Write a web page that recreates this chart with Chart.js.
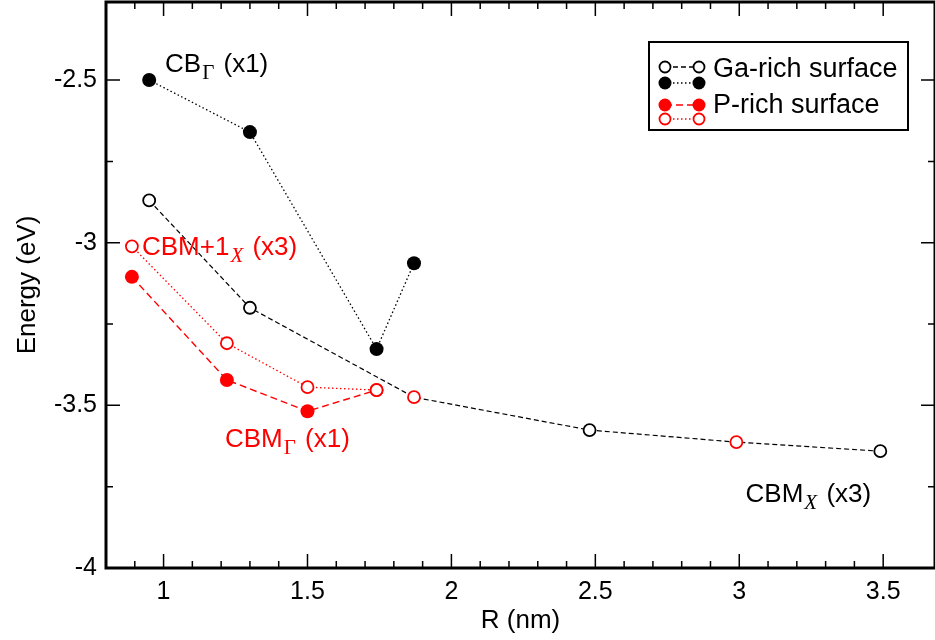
<!DOCTYPE html>
<html lang="en">
<head>
  <meta charset="UTF-8" />
  <title>Energy vs R</title>
  <script src="https://cdn.jsdelivr.net/npm/chart.js"></script>
  <style>
    html, body { margin: 0; padding: 0; background: #fff; }
    #wrap { width: 935px; height: 640px; }
  </style>
</head>
<body>
  <div id="wrap"><canvas id="energyChart" width="935" height="640"></canvas></div>

  <script>
    // CBM_X (x3): one dashed line through both surfaces
    const cbmXR = [0.95, 1.30, 1.87, 2.48, 2.99, 3.49];
    const cbmXE = [-2.87, -3.20, -3.475, -3.576, -3.613, -3.641];
    const cbmXSurface = ['Ga', 'Ga', 'P', 'Ga', 'P', 'Ga'];

    // CB_Gamma (x1), Ga-rich
    const cbGammaR = [0.95, 1.30, 1.74, 1.87];
    const cbGammaE = [-2.50, -2.66, -3.327, -3.063];

    // CBM_Gamma (x1), P-rich
    const cbmGammaR = [0.89, 1.22, 1.50, 1.74];
    const cbmGammaE = [-3.105, -3.422, -3.518, -3.453];

    // CBM+1_X (x3), P-rich
    const cbm1XR = [0.89, 1.22, 1.50, 1.74];
    const cbm1XE = [-3.011, -3.309, -3.444, -3.453];

    const xTickStep = 0.1;
    const yTickStep = 0.25;

    const FONT = "'Liberation Sans', Arial, Helvetica, sans-serif";
    const RED = '#ff0000';
    const surfaceColor = { Ga: '#000000', P: RED };

    const pts = (xs, ys) => xs.map((x, i) => ({ x: x, y: ys[i] }));
    const isMult = (v, step) => Math.abs(v / step - Math.round(v / step)) < 1e-6;

    // inward tick marks, frame, legend and text labels
    const framePlugin = {
      id: 'frame',
      afterDraw(chart) {
        const ctx = chart.ctx;
        const a = chart.chartArea;
        const xs = chart.scales.x, ys = chart.scales.y;
        ctx.save();
        ctx.strokeStyle = '#000';
        ctx.lineWidth = 1.5;
        ctx.beginPath();
        xs.ticks.forEach(t => {
          if (!isMult(t.value, xTickStep)) return;
          const px = xs.getPixelForValue(t.value);
          const len = isMult(t.value, 0.5) ? 14 : 7;
          ctx.moveTo(px, a.bottom); ctx.lineTo(px, a.bottom - len);
          ctx.moveTo(px, a.top); ctx.lineTo(px, a.top + len);
        });
        ys.ticks.forEach(t => {
          if (!isMult(t.value, yTickStep)) return;
          const py = ys.getPixelForValue(t.value);
          const len = isMult(t.value, 0.5) ? 14 : 7;
          ctx.moveTo(a.left, py); ctx.lineTo(a.left + len, py);
          ctx.moveTo(a.right, py); ctx.lineTo(a.right - len, py);
        });
        ctx.stroke();

        ctx.lineWidth = 3;
        ctx.strokeRect(a.left, a.top, a.right - a.left, a.bottom - a.top);

        // legend
        const lx = 649, ly = 42, lw = 259, lh = 88;
        ctx.fillStyle = '#fff';
        ctx.fillRect(lx, ly, lw, lh);
        ctx.lineWidth = 2;
        ctx.strokeRect(lx, ly, lw, lh);

        const rows = [
          { y: 67, color: '#000', fill: false, dash: [5, 3] },
          { y: 83, color: '#000', fill: true, dash: [1.5, 2.5] },
          { y: 105, color: RED, fill: true, dash: [7, 4] },
          { y: 119, color: RED, fill: false, dash: [1.5, 2.5] }
        ];
        rows.forEach(r => {
          ctx.strokeStyle = r.color;
          ctx.lineWidth = 1.3;
          ctx.setLineDash(r.dash);
          ctx.beginPath();
          ctx.moveTo(665, r.y); ctx.lineTo(699, r.y);
          ctx.stroke();
          ctx.setLineDash([]);
          [665, 699].forEach(cx => {
            ctx.beginPath();
            ctx.arc(cx, r.y, r.fill ? 6.5 : 5.5, 0, Math.PI * 2);
            if (r.fill) {
              ctx.fillStyle = r.color; ctx.fill();
            } else {
              ctx.fillStyle = '#fff'; ctx.fill();
              ctx.lineWidth = 1.8; ctx.stroke();
            }
          });
        });
        ctx.fillStyle = '#000';
        ctx.font = '27px ' + FONT;
        ctx.textBaseline = 'alphabetic';
        ctx.textAlign = 'left';
        ctx.fillText('Ga-rich surface', 713, 77);
        ctx.fillText('P-rich surface', 713, 113);

        // curve labels, anchored in data space
        const label = (xv, yv, color, main, sub, subItalic, rest) => {
          let px = xs.getPixelForValue(xv);
          const py = ys.getPixelForValue(yv);
          ctx.fillStyle = color;
          ctx.font = '26px ' + FONT;
          ctx.fillText(main, px, py);
          px += ctx.measureText(main).width;
          ctx.font = (subItalic ? 'italic ' : '') + "21px 'Liberation Serif', 'Times New Roman', serif";
          ctx.fillText(sub, px + 1, py + 7);
          px += ctx.measureText(sub).width + 3;
          ctx.font = '26px ' + FONT;
          ctx.fillText(rest, px, py);
        };
        label(1.005, -2.476, '#000', 'CB', 'Γ', false, ' (x1)');
        label(0.925, -3.039, RED, 'CBM+1', 'X', true, ' (x3)');
        label(1.213, -3.628, RED, 'CBM', 'Γ', false, ' (x1)');
        label(3.022, -3.797, '#000', 'CBM', 'X', true, ' (x3)');
        ctx.restore();
      }
    };

    new Chart(document.getElementById('energyChart'), {
      type: 'scatter',
      data: {
        datasets: [
          {
            label: 'CBM+1_X',
            data: pts(cbm1XR, cbm1XE),
            showLine: true,
            borderColor: RED,
            borderWidth: 1.3,
            borderDash: [1.5, 2.5],
            pointRadius: 6,
            pointBorderWidth: 1.8,
            pointBorderColor: RED,
            pointBackgroundColor: '#fff',
            order: 0
          },
          {
            label: 'CBM_Gamma',
            data: pts(cbmGammaR, cbmGammaE),
            showLine: true,
            borderColor: RED,
            borderWidth: 1.4,
            borderDash: [7, 4],
            pointRadius: 7,
            pointBorderWidth: 0,
            pointBackgroundColor: RED,
            order: 1
          },
          {
            label: 'CBM_X',
            data: pts(cbmXR, cbmXE),
            showLine: true,
            borderColor: '#000',
            borderWidth: 1.2,
            borderDash: [5, 3],
            pointRadius: 6,
            pointBorderWidth: 1.8,
            pointBorderColor: cbmXSurface.map(s => surfaceColor[s]),
            pointBackgroundColor: '#fff',
            order: 2
          },
          {
            label: 'CB_Gamma',
            data: pts(cbGammaR, cbGammaE),
            showLine: true,
            borderColor: '#000',
            borderWidth: 1.3,
            borderDash: [1.5, 2.5],
            pointRadius: 7,
            pointBorderWidth: 0,
            pointBackgroundColor: '#000',
            order: 3
          }
        ]
      },
      options: {
        responsive: false,
        animation: false,
        layout: { autoPadding: false, padding: { top: 2, right: 0, left: 0, bottom: 0 } },
        plugins: {
          legend: { display: false },
          tooltip: { enabled: false }
        },
        scales: {
          x: {
            type: 'linear',
            min: 0.8,
            max: 3.68,
            grid: { display: false, drawTicks: false },
            border: { display: false },
            ticks: {
              stepSize: xTickStep,
              autoSkip: false,
              maxRotation: 0,
              padding: 9,
              color: '#000',
              font: { family: FONT, size: 25 },
              callback: v => isMult(v, 0.5) ? String(Math.round(v * 2) / 2) : ''
            },
            title: {
              display: true,
              text: 'R (nm)',
              color: '#000',
              font: { family: FONT, size: 26 },
              padding: { top: 0, bottom: 4 }
            },
            afterFit: s => {
              s.height = 72;
              s.paddingLeft = 0; s.paddingRight = 0;
            }
          },
          y: {
            type: 'linear',
            min: -4,
            max: -2.26,
            grid: { display: false, drawTicks: false },
            border: { display: false },
            ticks: {
              stepSize: yTickStep,
              autoSkip: false,
              padding: 9,
              color: '#000',
              font: { family: FONT, size: 25 },
              callback: v => isMult(v, 0.5) ? String(Math.round(v * 2) / 2) : ''
            },
            title: {
              display: true,
              text: 'Energy (eV)',
              color: '#000',
              font: { family: FONT, size: 26 },
              padding: { top: 12, bottom: 0 }
            },
            afterFit: s => {
              s.width = 106;
              s.paddingTop = 0; s.paddingBottom = 0;
            }
          }
        }
      },
      plugins: [framePlugin]
    });
  </script>
</body>
</html>
